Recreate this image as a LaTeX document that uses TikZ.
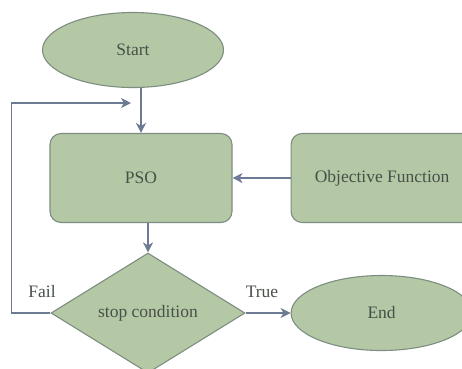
\documentclass[tikz,border=0pt]{standalone}
\usepackage{fontspec}
\setmainfont{Liberation Serif}
\usetikzlibrary{shapes.geometric}
\usetikzlibrary{arrows.meta}
\usetikzlibrary{positioning}
\usetikzlibrary{calc}

\definecolor{sage}{RGB}{180,200,166}
\definecolor{sageline}{RGB}{125,142,128}
\definecolor{flowline}{RGB}{108,122,148}
\definecolor{labeltext}{RGB}{72,80,72}

\tikzset{
  terminal/.style={draw=sageline,fill=sage,ellipse,line width=1.1pt,inner sep=0pt,minimum width=181pt,minimum height=75pt},
  process/.style={draw=sageline,fill=sage,rectangle,rounded corners=11pt,line width=1.1pt,inner sep=0pt,minimum width=182pt,minimum height=89pt},
  decision/.style={draw=sageline,fill=sage,diamond,aspect=1.6,line width=1.1pt,inner sep=0pt,minimum width=194pt,minimum height=120pt},
  flow/.style={draw=flowline,line width=1.1pt,-{Stealth[length=10pt,width=10pt,inset=3pt]}}
}

\begin{document}
\begin{tikzpicture}[x=1pt,y=-1pt,font=\fontsize{17.5}{20}\selectfont,text=labeltext]
\useasboundingbox[fill=white] (0,0) rectangle (462,368);
\node [terminal] (start) at (133,50) {Start};
\node [process] (pso) at (141,178) {PSO};
\node [process] [right=58pt of pso] (objfun) {Objective Function};
\node [decision] (cond) at (148,313) {stop condition};
\node [terminal] [right=45pt of cond] (finish) {End};
\coordinate (loopin) at (131,103);
\draw [flow] (start.south -| pso.north) -- (pso.north);
\draw [flow] (pso.south -| cond.north) -- (cond.north);
\draw [flow] (objfun.west) -- (pso.east);
\draw [flow] (cond.east) -- (finish.west);
\draw [flow] (cond.west) -- ++(-39,0) |- (loopin);
\node (fail) at (42,292) {Fail};
\node (true) at (262,292) {True};
\end{tikzpicture}
\end{document}
